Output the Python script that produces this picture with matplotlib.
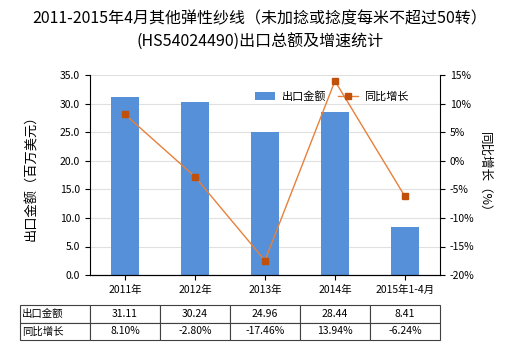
import matplotlib.pyplot as plt
import numpy as np

plt.rcParams['font.family'] = ['Noto Sans CJK SC', 'DejaVu Sans']

years = ['2011年', '2012年', '2013年', '2014年', '2015年1-4月']
export_value = [31.11, 30.24, 24.96, 28.44, 8.41]
growth = [8.10, -2.80, -17.46, 13.94, -6.24]
value_labels = ['31.11', '30.24', '24.96', '28.44', '8.41']
growth_labels = ['8.10%', '-2.80%', '-17.46%', '13.94%', '-6.24%']

fig = plt.figure(figsize=(5.2, 3.5), dpi=100)
ax = fig.add_axes([0.173, 0.214, 0.673, 0.572])
x = np.arange(len(years))

ax.bar(x, export_value, width=0.4, color='#5590d8', label='出口金额', zorder=2)
ax.set_ylim(0, 35)
ax.set_yticks(np.arange(0, 35.1, 5))
ax.set_yticklabels(['%.1f' % v for v in np.arange(0, 35.1, 5)], fontsize=7.5)
ax.set_xlim(-0.5, len(years) - 0.5)
ax.set_xticks(x)
ax.set_xticklabels(years, fontsize=7.5)
ax.grid(axis='y', color='#e0e0e0', linewidth=0.8, zorder=0)
ax.set_ylabel('出口金额（百万美元）', fontsize=9.5, labelpad=16)
for s in ['top', 'right']:
    ax.spines[s].set_visible(False)

ax2 = ax.twinx()
ax2.plot(x, growth, color='#e8803a', linewidth=1, marker='s', markersize=4,
         markerfacecolor='#c0500a', markeredgecolor='#c0500a', label='同比增长', zorder=3)
ax2.set_ylim(-20, 15)
ax2.set_yticks(np.arange(-20, 16, 5))
ax2.set_yticklabels(['%d%%' % v for v in np.arange(-20, 16, 5)], fontsize=7.5)
ax2.set_ylabel('同比增长（%）', fontsize=9, rotation=-90, labelpad=12)
for s in ['top', 'left']:
    ax2.spines[s].set_visible(False)

h1, l1 = ax.get_legend_handles_labels()
h2, l2 = ax2.get_legend_handles_labels()
ax2.legend(h1 + h2, l1 + l2, loc='upper right', bbox_to_anchor=(0.94, 0.97),
           ncol=2, frameon=False, fontsize=8, columnspacing=1.0,
           handlelength=1.8, handletextpad=0.6)

fig.suptitle('2011-2015年4月其他弹性纱线（未加捻或捻度每米不超过50转）\n(HS54024490)出口总额及增速统计',
             fontsize=11.5, y=0.97, linespacing=1.5)

tbl = ax.table(cellText=[['出口金额'] + value_labels, ['同比增长'] + growth_labels],
               cellLoc='center', bbox=[-0.2, -0.325, 1.2, 0.175])
tbl.auto_set_font_size(False)
tbl.set_fontsize(7.5)
for (r, c), cell in tbl.get_celld().items():
    cell.set_edgecolor('#404040')
    cell.set_linewidth(0.8)
    if c == 0:
        cell._loc = 'left'
        cell.PAD = 0.03
        cell.get_text().set_horizontalalignment('left')

plt.savefig('out.png')
